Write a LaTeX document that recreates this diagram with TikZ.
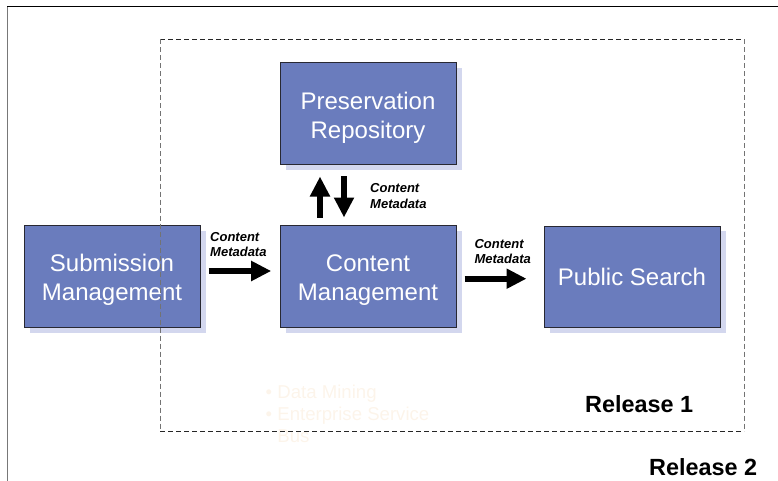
\documentclass[tikz,border=0pt]{standalone}
\usepackage{fontspec}
\setmainfont{Liberation Sans}
\usetikzlibrary{arrows.meta}
\definecolor{boxblue}{RGB}{106,124,189}
\definecolor{boxshadow}{RGB}{211,215,238}
\definecolor{faded}{RGB}{252,244,234}
\definecolor{framegray}{RGB}{120,120,120}
\newcommand{\topstrut}[1]{\rule{0pt}{#1}}
\tikzset{
  comp/.style={draw={rgb,255:red,40;green,40;blue,50}, line width=1pt, fill=boxblue,
    minimum width=176pt, minimum height=102pt, inner sep=0pt, text=white, align=center,
    font=\fontsize{24}{29}\selectfont},
  shadowbox/.style={fill=boxshadow, draw=none},
  flow/.style={line width=6pt, -{Triangle[length=20pt,width=19pt]}},
  flowlabel/.style={anchor=north west, inner sep=0pt, align=left,
    font=\bfseries\itshape\fontsize{13}{15.5}\selectfont},
  release/.style={anchor=base west, inner sep=0pt, font=\bfseries\fontsize{23.4}{28}\selectfont},
}
\begin{document}
\begin{tikzpicture}[x=1pt,y=-1pt]
\useasboundingbox (0,0) rectangle (778,481);
% outer frame (Release 2)
\draw[framegray, line width=1.3pt] (7.5,6.8) -- (7.5,485);
\draw[black, line width=1.3pt] (7,6.8) -- (782,6.8);
% shadows
\fill[shadowbox] (285.5,68.5) rectangle (461.5,170.5);
\fill[shadowbox] (29.5,230.5) rectangle (205.5,332.5);
\fill[shadowbox] (285.5,230.5) rectangle (461.5,332.5);
\fill[shadowbox] (549.5,231) rectangle (725.5,332.5);
% components
\node[comp] (pres) at (368,114) {\topstrut{24.5pt}Preservation\\Repository};
\node[comp] (sub) at (112,276) {\topstrut{24.5pt}Submission\\Management};
\node[comp] (cm) at (368,276) {\topstrut{24.5pt}Content\\Management};
\node[comp, minimum height=101pt] (ps) at (632,276.5) {\topstrut{19pt}Public Search};
% flows
\coordinate (a1s) at ([xshift=8pt,yshift=5pt]sub.east);
\coordinate (a1e) at ([xshift=-8.3pt,yshift=5pt]cm.west);
\draw[flow] (a1s) -- (a1e);
\coordinate (a2s) at ([xshift=8pt,yshift=-2.7pt]cm.east);
\coordinate (a2e) at ([xshift=-17pt,yshift=-2.2pt]ps.west);
\draw[flow] (a2s) -- (a2e);
\coordinate (upS) at ([xshift=-48pt,yshift=7pt]cm.north);
\coordinate (upE) at ([xshift=-48pt,yshift=-11pt]pres.south);
\draw[flow] (upS) -- (upE);
\coordinate (dnS) at ([xshift=-24pt,yshift=-10.7pt]pres.south);
\coordinate (dnE) at ([xshift=-24pt,yshift=7pt]cm.north);
\draw[flow] (dnS) -- (dnE);
% flow labels
\node[flowlabel] (l1) at (210,231.8) {Content\\Metadata};
\node[flowlabel] (l2) at (474.3,238.8) {Content\\Metadata};
\node[flowlabel] (l3) at (370,183.5) {Content\\Metadata};
% faded text
\node[anchor=north west, inner sep=0pt, align=left, text=faded,
  font=\fontsize{18.6}{22.3}\selectfont] (faint) at (265.5,384.6)
  {• Data Mining\\• Enterprise Service\\\hphantom{• }Bus};
% release labels
\node[release] (r1) at (585,412.7) {Release 1};
\node[release] (r2) at (649,475) {Release 2};
% Release 1 dashed frame
\draw[black!85, line width=1pt, dash pattern=on 5pt off 3pt] (160,39.5) -- (744,39.5);
\draw[black!85, line width=1pt, dash pattern=on 5pt off 3pt] (160,431) -- (744,431);
\draw[black!55, line width=1pt, dash pattern=on 5pt off 3pt] (160,39.5) -- (160,431);
\draw[black!55, line width=1pt, dash pattern=on 5pt off 3pt] (744,39.5) -- (744,431);
\end{tikzpicture}
\end{document}
